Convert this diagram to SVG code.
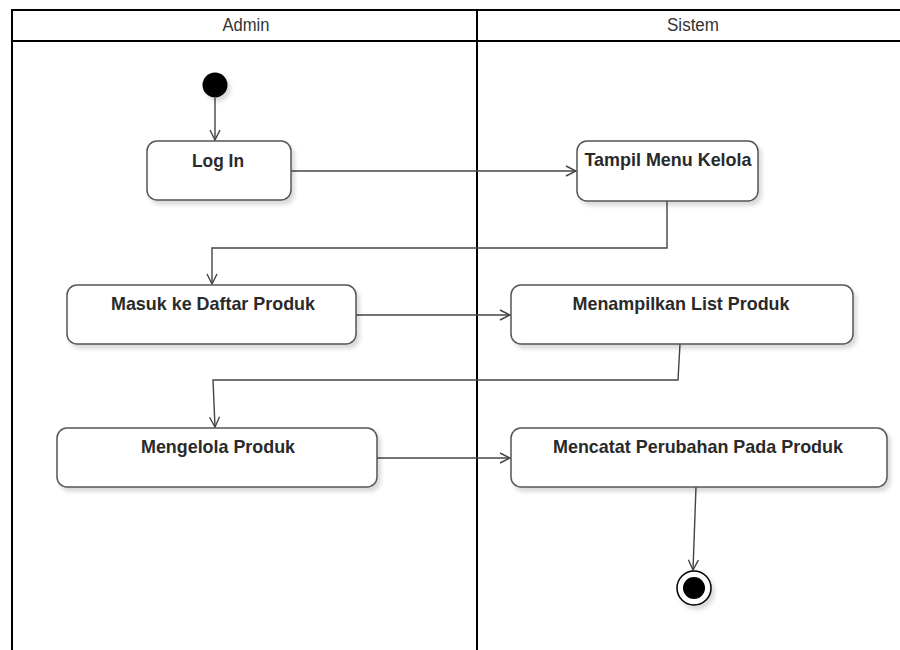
<svg xmlns="http://www.w3.org/2000/svg" width="900" height="650" viewBox="0 0 900 650">
<defs>
<style>
.frame{stroke:#000;stroke-width:2;fill:none}
.hdr{font-family:"Liberation Sans",Arial,sans-serif;font-size:18px;fill:#333;text-anchor:middle}
.box{fill:#fff;stroke:#555;stroke-width:1.5;filter:url(#sh)}
.lbl{font-family:"Liberation Sans",Arial,sans-serif;font-size:19px;font-weight:bold;fill:#2a2a2a;text-anchor:middle}
.con{fill:none;stroke:#444;stroke-width:1.4}
</style>
<filter id="sh" x="-10%" y="-20%" width="130%" height="160%">
<feDropShadow dx="3" dy="4" stdDeviation="2" flood-color="#000" flood-opacity="0.15"/>
</filter>
<marker id="arr" viewBox="0 0 12 12" refX="11" refY="6" markerWidth="12" markerHeight="12" markerUnits="userSpaceOnUse" orient="auto">
<path d="M1,1 L11,6 L1,11" fill="none" stroke="#444" stroke-width="1.4"/>
</marker>
</defs>
<rect width="900" height="650" fill="#fff"/>
<g id="swimlanes">
<line class="frame" x1="12" y1="10" x2="900" y2="10"/>
<line class="frame" x1="12" y1="41" x2="900" y2="41"/>
<line class="frame" x1="12" y1="9" x2="12" y2="650"/>
<line class="frame" x1="477" y1="9" x2="477" y2="650"/>
<text class="hdr" x="246" y="31" textLength="47" lengthAdjust="spacingAndGlyphs">Admin</text>
<text class="hdr" x="693" y="31" textLength="52" lengthAdjust="spacingAndGlyphs">Sistem</text>
</g>
<g id="connectors">
<line class="con" x1="215" y1="98" x2="215" y2="140" marker-end="url(#arr)"/>
<line class="con" x1="291" y1="171" x2="576" y2="171" marker-end="url(#arr)"/>
<polyline class="con" points="667,201 667,248 212,248 212,284" marker-end="url(#arr)"/>
<line class="con" x1="356" y1="315" x2="510" y2="315" marker-end="url(#arr)"/>
<polyline class="con" points="680,344 678,380 213,380 215,427" marker-end="url(#arr)"/>
<line class="con" x1="377" y1="458" x2="510" y2="458" marker-end="url(#arr)"/>
<line class="con" x1="696" y1="487" x2="693" y2="570" marker-end="url(#arr)"/>
</g>
<g id="start">
<circle cx="215" cy="85" r="12.5" fill="#000" filter="url(#sh)"/>
</g>
<g id="login">
<rect class="box" x="147" y="141" width="144" height="59" rx="10"/>
<text class="lbl" x="218" y="167" textLength="52" lengthAdjust="spacingAndGlyphs">Log In</text>
</g>
<g id="tampil-menu">
<rect class="box" x="577" y="141" width="181" height="60" rx="10"/>
<text class="lbl" x="668" y="166" textLength="167" lengthAdjust="spacingAndGlyphs">Tampil Menu Kelola</text>
</g>
<g id="masuk-daftar">
<rect class="box" x="67" y="285" width="289" height="59" rx="10"/>
<text class="lbl" x="213" y="310" textLength="204" lengthAdjust="spacingAndGlyphs">Masuk ke Daftar Produk</text>
</g>
<g id="menampilkan-list">
<rect class="box" x="511" y="285" width="342" height="59" rx="10"/>
<text class="lbl" x="681" y="310" textLength="217" lengthAdjust="spacingAndGlyphs">Menampilkan List Produk</text>
</g>
<g id="mengelola">
<rect class="box" x="57" y="428" width="320" height="59" rx="10"/>
<text class="lbl" x="218" y="453" textLength="154" lengthAdjust="spacingAndGlyphs">Mengelola Produk</text>
</g>
<g id="mencatat">
<rect class="box" x="511" y="428" width="376" height="59" rx="10"/>
<text class="lbl" x="698" y="453" textLength="290" lengthAdjust="spacingAndGlyphs">Mencatat Perubahan Pada Produk</text>
</g>
<g id="end">
<circle cx="694" cy="588" r="17" fill="#fff" stroke="#000" stroke-width="1.5" filter="url(#sh)"/>
<circle cx="694" cy="588" r="11" fill="#000"/>
</g>
</svg>
